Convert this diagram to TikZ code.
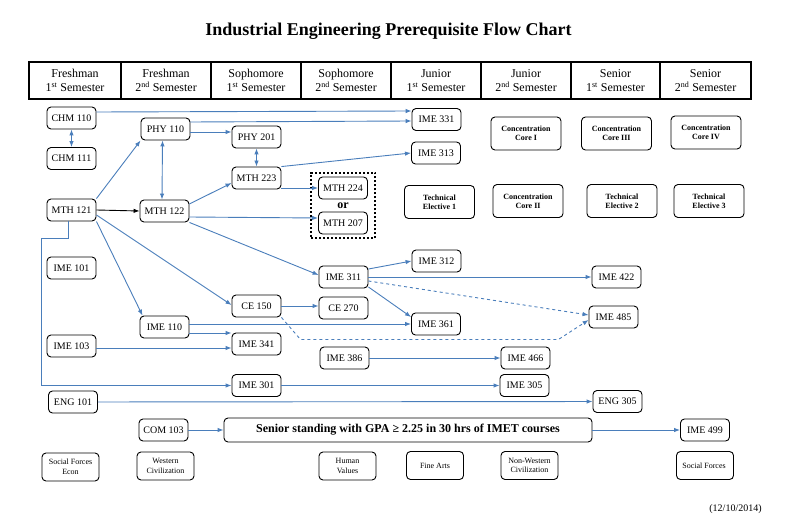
\documentclass[tikz,border=0pt]{standalone}
\usepackage{fontspec}
\setmainfont{Liberation Serif}
\usepackage{tikz}
\usetikzlibrary{arrows.meta,fit}

\definecolor{linkblue}{RGB}{74,126,187}

\begin{document}
\begin{tikzpicture}[x=1pt,y=-1pt,
    course/.style={draw,rounded corners=4pt,line width=0.9pt,minimum width=49pt,
        minimum height=22pt,inner sep=1pt,font=\fontsize{10}{12}\selectfont},
    elective/.style={course,minimum width=70pt,minimum height=33pt,align=center,
        font=\fontsize{8}{9}\selectfont\bfseries},
    gened/.style={course,minimum width=57pt,minimum height=28pt,align=center,
        font=\fontsize{8}{9.5}\selectfont},
    semhead/.style={align=center,font=\fontsize{12}{14}\selectfont},
    link/.style={linkblue,line width=0.9pt,-{Latex[length=6pt,width=4.5pt]}},
    twoway/.style={link,{Latex[length=6pt,width=4.5pt]}-{Latex[length=6pt,width=4.5pt]}},
    dashlink/.style={link,dashed}]
    \useasboundingbox (0,0) rectangle (792,529);

    \node[font=\fontsize{18}{20}\selectfont\bfseries] (title) at (388.5,31)
        {Industrial Engineering Prerequisite Flow Chart};

    % semester header
    \draw[line width=1.2pt] (29,62) rectangle (751,99);
    \foreach \x in {121,211,301,391,481,571,660} {
        \draw[line width=1.2pt] (\x,62) -- (\x,99);
      }
    \foreach \n/\x/\t in {
        hfr1/75/Freshman\\1\textsuperscript{st} Semester,
        hfr2/166/Freshman\\2\textsuperscript{nd} Semester,
        hso1/256/Sophomore\\1\textsuperscript{st} Semester,
        hso2/346/Sophomore\\2\textsuperscript{nd} Semester,
        hjr1/436/Junior\\1\textsuperscript{st} Semester,
        hjr2/526/Junior\\2\textsuperscript{nd} Semester,
        hsr1/615.5/Senior\\1\textsuperscript{st} Semester,
        hsr2/705.5/Senior\\2\textsuperscript{nd} Semester
      } {
        \node[semhead] (\n) at (\x,80.5) {\t};
      }

    % courses
    \foreach \n/\x/\y/\t in {
        chm110/71.5/118/CHM 110, chm111/71.5/158.5/CHM 111,
        mth121/71.5/210/MTH 121, ime101/71.5/268/IME 101,
        ime103/71.5/346/IME 103, eng101/73/402/ENG 101,
        phy110/165.5/129/PHY 110, mth122/164.5/211/MTH 122,
        ime110/164.5/327/IME 110, com103/163.5/430/COM 103,
        phy201/256.5/137/PHY 201, mth223/256.5/178/MTH 223,
        ce150/256.5/306/CE 150, ime341/256.5/344/IME 341,
        ime301/256.5/385.5/IME 301,
        mth224/343/188/MTH 224, mth207/343/223/MTH 207,
        ime311/343.5/277/IME 311, ce270/343.5/308/CE 270,
        ime386/344.5/358/IME 386,
        ime331/436.5/119.5/IME 331, ime313/436/153/IME 313,
        ime312/436.5/261/IME 312, ime361/436/324/IME 361,
        ime466/525.5/358/IME 466, ime305/524.5/385.5/IME 305,
        ime422/616.5/277/IME 422, ime485/613.5/317/IME 485,
        eng305/617.5/401.5/ENG 305, ime499/705/430/IME 499
      } {
        \node[course] (\n) at (\x,\y) {\t};
      }

    \foreach \n/\x/\y/\t in {
        core1/526/133.5/Concentration\\Core I,
        core3/616.5/133.5/Concentration\\Core III,
        core4/706/132.5/Concentration\\Core IV,
        tech1/439.5/202/Technical\\Elective 1,
        core2/528/201/Concentration\\Core II,
        tech2/622/201/Technical\\Elective 2,
        tech3/709/201/Technical\\Elective 3
      } {
        \node[elective] (\n) at (\x,\y) {\t};
      }

    \foreach \n/\x/\y/\t in {
        socecon/70.5/467/Social Forces\\Econ,
        westciv/165.5/466/Western\\Civilization,
        human/347.5/466/Human\\Values,
        finearts/435/465.5/Fine Arts,
        nonwest/529.5/465.5/Non-Western\\Civilization,
        social/705/465.5/Social Forces
      } {
        \node[gened] (\n) at (\x,\y) {\t};
      }

    \node[font=\fontsize{12}{14}\selectfont\bfseries] (orlabel) at (343,205.5) {or};
    \node[draw,dotted,line width=2pt,inner xsep=7pt,inner ysep=4pt,
        fit=(mth224)(mth207)] (orbox) {};

    \node[course,minimum width=368pt,minimum height=24pt,
        font=\fontsize{12}{14}\selectfont\bfseries] (senior) at (408,430)
        {Senior standing with GPA ≥ 2.25 in 30 hrs of IMET courses};

    \node[font=\fontsize{10}{12}\selectfont] (date) at (735.5,509) {(12/10/2014)};

    % prerequisites
    \draw[link] ([yshift=6pt]chm110.east) -- ([yshift=8.5pt]ime331.west);
    \draw[link] ([yshift=7pt]phy110.east) -- ([yshift=-1.5pt]ime331.west);
    \draw[link] ([yshift=-3pt]phy110.east) -- ([yshift=5pt]phy201.west);
    \draw[twoway] (chm110.south) -- (chm111.north);
    \draw[twoway] ([xshift=-3pt]phy110.south) -- ([xshift=-2.5pt]mth122.north);
    \draw[twoway] (phy201.south) -- (mth223.north);
    \draw[link] (mth121.north east) -- (phy110.south west);
    \draw[-{Latex[length=6pt,width=4.5pt]},line width=0.9pt] (mth121.east) -- (mth122.west);
    \draw[link] ([yshift=-5pt]mth121.east) -- ([yshift=1pt]ce150.west);
    \draw[link] (mth121.south east) -- ([xshift=3pt]ime110.north west);
    \draw[link] ([xshift=-3.5pt]mth121.south) -- ++(0,17) -- ++(-27,0) |- (ime301.west);
    \draw[link] ([yshift=7pt]mth122.east) -- ([yshift=-5pt]mth223.west);
    \draw[link] ([yshift=-6pt]mth122.east) -- ([yshift=5pt]mth207.west);
    \draw[link] ([yshift=-10pt]mth223.east) -- (mth224.west);
    \draw[link] (mth223.north east) -- (ime313.west);
    \draw[link] (mth122.south east) -- ([yshift=2pt]ime311.west);
    \draw[link] ([yshift=8pt]ime311.east) -- (ime312.west);
    \draw[link] (ime311.east) -- (ime422.west);
    \draw[dashlink] ([yshift=-4pt]ime311.east) -- ([yshift=2pt]ime485.west);
    \draw[link] ([yshift=-10pt]ime311.east) -- ([yshift=7pt]ime361.west);
    \draw[link] (ce150.east) -- ([yshift=2pt]ce270.west);
    \draw[dashlink] (ce150.south east) -- ++(19,22) -- ++(258,0) -- ([yshift=-3pt]ime485.west);
    \draw[link] ([yshift=3pt]ime110.east) -- (ime361.west);
    \draw[link] ([yshift=-6pt]ime110.east) -- ([yshift=11pt]ime341.west);
    \draw[link] ([yshift=-2pt]ime103.east) -- ([yshift=-4pt]ime341.west);
    \draw[link] (ime386) -- (ime466);
    \draw[link] (ime301) -- (ime305);
    \draw[link] (eng101) -- (eng305);
    \draw[link] (com103) -- (senior);
    \draw[link] (senior) -- (ime499);
  \end{tikzpicture}
\end{document}
